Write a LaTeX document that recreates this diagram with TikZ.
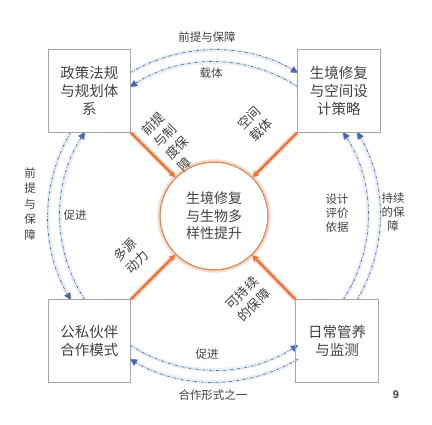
\documentclass[tikz,border=0pt]{standalone}
\usepackage{fontspec}
\setmainfont{Noto Sans CJK SC}
\newfontfamily\numfont{Liberation Sans}
\usetikzlibrary{arrows.meta}
\definecolor{txt}{HTML}{404040}
\definecolor{boxline}{HTML}{A6A6A6}
\definecolor{orng}{HTML}{E8743B}
\definecolor{orglow}{HTML}{F9DCCB}
\definecolor{circline}{HTML}{D98A5E}
\definecolor{lnk}{HTML}{5A6890}
\definecolor{lnkglow}{HTML}{EAF0F8}
\definecolor{tipblue}{HTML}{4A66B0}
\tikzset{
  x=1pt, y=1pt,
  boxnode/.style={draw=boxline, line width=0.8pt, minimum width=82.5pt, minimum height=82.5pt,
    inner sep=0pt, align=center, text=txt, font=\fontsize{14.5}{18}\selectfont},
  hub/.style={circle, draw=circline, line width=1.1pt, minimum size=108pt, inner sep=0pt,
    align=center, text=txt, font=\fontsize{14}{17.5}\selectfont},
  feed/.style={draw=orng, line width=2.4pt, -{Stealth[length=7pt,width=7pt]}},
  feedglow/.style={draw=orglow, line width=5.5pt},
  link/.style={draw=lnk, line width=0.7pt, dash pattern=on 3pt off 1.6pt on 0.8pt off 1.6pt,
    -{Triangle[length=7pt,width=7pt,color=tipblue]}},
  linkglow/.style={draw=lnkglow, line width=4pt},
  lbl/.style={text=txt, align=center, inner sep=0pt, font=\fontsize{11.5}{14}\selectfont},
  rlbl/.style={text=txt, align=left, inner sep=0pt, rotate=45, font=\fontsize{13}{17}\selectfont},
}
\begin{document}
\begin{tikzpicture}
\useasboundingbox (0,0) rectangle (432,425);
% nodes
\node[hub] (c) at (214,209) {生境修复\\与生物多\\样性提升};
\node[boxnode] (tl) at (89.25,334) {政策法规\\与规划体\\系};
\node[boxnode] (tr) at (338.75,334) {生境修复\\与空间设\\计策略};
\node[boxnode] (bl) at (89.25,84) {公私伙伴\\合作模式};
\node[boxnode] (br) at (337,84) {日常管养\\与监测};
% arc end points
\coordinate (t1s) at ([shift={(120.4:166)}]c.center);
\coordinate (t2s) at ([shift={(56.95:154)}]c.center);
\coordinate (l1s) at ([shift={(149.6:166)}]c.center);
\coordinate (l2s) at ([shift={(213.05:154)}]c.center);
\coordinate (r1s) at ([shift={(-30.4:166)}]c.center);
\coordinate (r2s) at ([shift={(-33.05:154)}]c.center);
\coordinate (b1s) at ([shift={(300.4:166)}]c.center);
\coordinate (b2s) at ([shift={(236.95:154)}]c.center);
% glows
\draw[linkglow] (t1s) arc[start angle=120.4,end angle=59.6,radius=166pt];
\draw[linkglow] (t2s) arc[start angle=56.95,end angle=123.05,radius=154pt];
\draw[linkglow] (l1s) arc[start angle=149.6,end angle=210.4,radius=166pt];
\draw[linkglow] (l2s) arc[start angle=213.05,end angle=146.95,radius=154pt];
\draw[linkglow] (r1s) arc[start angle=-30.4,end angle=30.4,radius=166pt];
\draw[linkglow] (r2s) arc[start angle=-33.05,end angle=33.05,radius=154pt];
\draw[linkglow] (b1s) arc[start angle=300.4,end angle=239.6,radius=166pt];
\draw[linkglow] (b2s) arc[start angle=236.95,end angle=303.05,radius=154pt];
% dashed links
\draw[link] (t1s) arc[start angle=120.4,end angle=59.6,radius=166pt];
\draw[link] (t2s) arc[start angle=56.95,end angle=123.05,radius=154pt];
\draw[link] (l1s) arc[start angle=149.6,end angle=210.4,radius=166pt];
\draw[link] (l2s) arc[start angle=213.05,end angle=146.95,radius=154pt];
\draw[link] (r1s) arc[start angle=-30.4,end angle=30.4,radius=166pt];
\draw[link] (r2s) arc[start angle=-33.05,end angle=33.05,radius=154pt];
\draw[link] (b1s) arc[start angle=300.4,end angle=239.6,radius=166pt];
\draw[link] (b2s) arc[start angle=236.95,end angle=303.05,radius=154pt];
% orange feeds
\draw[draw=orglow, line width=2.5pt] (c.center) circle[radius=55.5pt];
\draw[feedglow] (tl.south east) -- (c);
\draw[feedglow] (tr.south west) -- (c);
\draw[feedglow] (bl.north east) -- (c);
\draw[feedglow] (br.north west) -- (c);
\draw[feed] (tl.south east) -- (c);
\draw[feed] (tr.south west) -- (c);
\draw[feed] (bl.north east) -- (c);
\draw[feed] (br.north west) -- (c);
% redraw circle and boxes on top
\node[hub] at (c.center) {};
\node[boxnode] at (tl.center) {};
\node[boxnode] at (tr.center) {};
\node[boxnode] at (bl.center) {};
\node[boxnode] at (br.center) {};
% link labels
\node[lbl] (lt1) at (207,388) {前提与保障};
\node[lbl] (lt2) at (211,352) {载体};
\node[lbl, font=\fontsize{11.5}{15.5}\selectfont] (ll1) at (30,221) {前\\提\\与\\保\\障};
\node[lbl] (ll2) at (75,210) {促进};
\node[lbl] (lr2) at (337,212) {设计\\评价\\依据};
\node[lbl] (lr1) at (393,213) {持续\\的保\\障};
\node[lbl] (lb2) at (207,71) {促进};
\node[lbl] (lb1) at (213,30) {合作形式之一};
\node[lbl, font=\numfont\bfseries\fontsize{11}{13}\selectfont] (pg) at (396,30) {9};
% feed labels
\node[rlbl] (f1) at (171,283) {前提\\与制\\度保\\障};
\node[rlbl] (f2) at (255,301) {空间\\载体};
\node[rlbl] (f3) at (131,169) {多源\\动力};
\node[rlbl] (f4) at (248,126) {可持续\\的保障};
\end{tikzpicture}
\end{document}
